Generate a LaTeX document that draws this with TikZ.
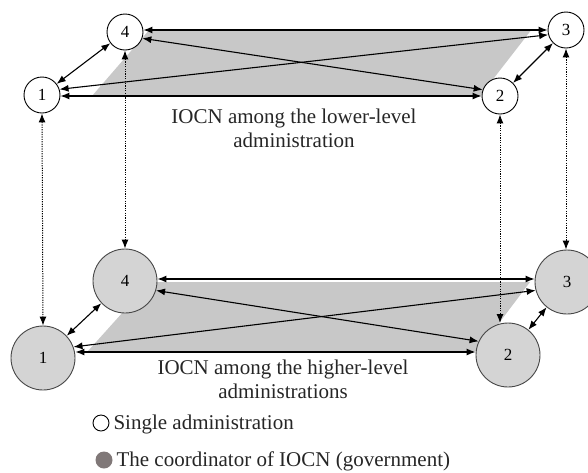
\documentclass[tikz,border=0pt]{standalone}
\usepackage{fontspec}
\setmainfont{Liberation Serif}
\usetikzlibrary{arrows.meta,calc}
\definecolor{planegray}{RGB}{200,200,200}
\definecolor{nodefill}{RGB}{212,212,212}
\definecolor{nodeline}{RGB}{70,70,70}
\definecolor{legdot}{RGB}{128,120,120}
\begin{document}
\begin{tikzpicture}[x=1pt,y=-1pt,
  topnode/.style={circle,draw=black,line width=0.9pt,fill=white,minimum size=36pt,inner sep=0pt,font=\fontsize{17}{17}\selectfont},
  botnode/.style={circle,draw=nodeline,line width=0.9pt,fill=nodefill,minimum size=64pt,inner sep=0pt,font=\fontsize{17}{17}\selectfont},
  link/.style={line width=1.1pt,{Latex[length=9pt,width=7pt]}-{Latex[length=9pt,width=7pt]}},
  vlink/.style={line width=1pt,dash pattern=on 1.2pt off 1.2pt,{Latex[length=9pt,width=7pt]}-{Latex[length=9pt,width=7pt]}},
  lbl/.style={font=\fontsize{21}{24}\selectfont,align=center,text=black!85},
  legtext/.style={font=\fontsize{21}{24}\selectfont,anchor=west,text=black!85}]
\useasboundingbox (0,0) rectangle (588,472);
% shaded planes
\fill[planegray] (92,96) -- (150,29) -- (532,29) -- (480,96) -- cycle;
\fill[planegray] (88,351) -- (150,282) -- (530,282) -- (478,351) -- cycle;
% top nodes
\node[topnode] (t4) at (125,32) {4};
\node[topnode] (t1) at (42,95) {1};
\node[topnode] (t3) at (566,30) {3};
\node[topnode] (t2) at (500,96) {2};
% bottom nodes
\node[botnode] (b4) at (125,281) {4};
\node[botnode] (b1) at (43,358) {1};
\node[botnode] (b3) at (567,282) {3};
\node[botnode] (b2) at (508,355) {2};
% top links
\draw[link] (t4.east |- t3.west) -- (t3.west);
\draw[link] (t1.east |- t2.west) -- (t2.west);
\draw[link] (t1.18) -- (t3.195);
\draw[link] (t4.-20) -- (t2.160);
\draw[link] (t1) -- (t4);
\draw[link] (t2) -- (t3);
% bottom links
\draw[link] (b4.east |- 0,279) -- (b3.west |- 0,279);
\draw[link] (b1.east |- 0,352) -- (b2.west |- 0,352);
\draw[link] (b1.20) -- (b3.195);
\draw[link] (b4.-17) -- (b2.155);
\draw[link] (b1) -- (b4);
\draw[link] (b2) -- (b3);
% vertical dotted links
\draw[vlink] (t1.south) -- (b1.north);
\draw[vlink] (t4.south) -- (t4.south |- b4.north);
\draw[vlink] (t2.south) -- (t2.south |- 0,323);
\draw[vlink] (t3.south) -- (t3.south |- b3.north);
% labels
\node[lbl] (ltop) at (294,128) {IOCN among the lower-level\\administration};
\node[lbl] (lbot) at (283,379) {IOCN among the higher-level\\administrations};
% legend
\node[circle,draw=black,line width=0.9pt,minimum size=16pt,inner sep=0pt] (lc1) at (101,423) {};
\node[legtext] (lt1) at (110,424) {Single administration};
\node[circle,fill=legdot,minimum size=17pt,inner sep=0pt] (lc2) at (104,460) {};
\node[legtext] (lt2) at (113,461) {The coordinator of IOCN (government)};
\end{tikzpicture}
\end{document}
